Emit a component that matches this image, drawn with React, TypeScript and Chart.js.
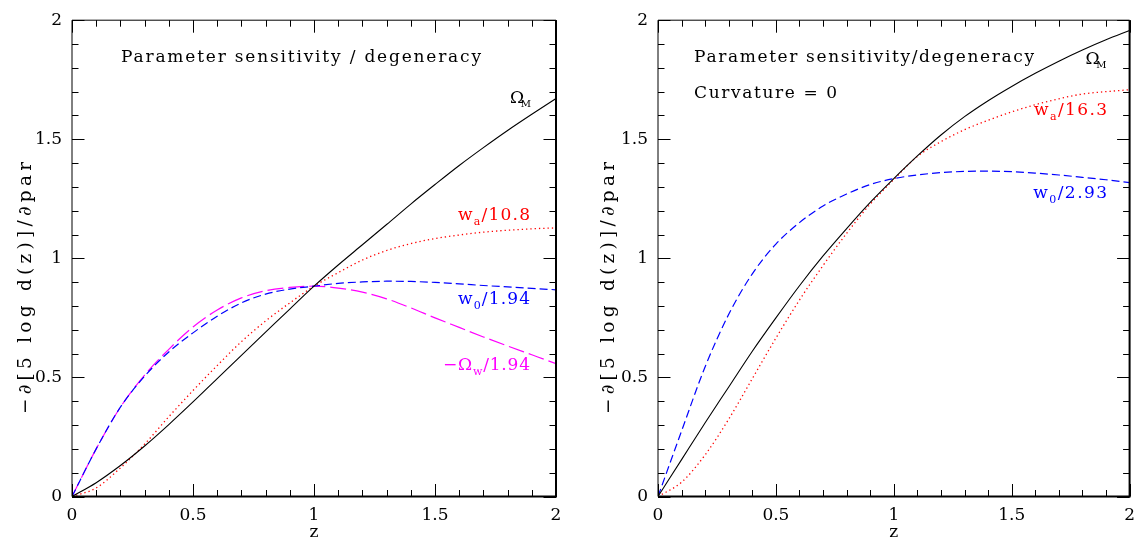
import React, { useEffect, useRef } from "react";
import { Chart, registerables } from "chart.js";

Chart.register(...registerables);

// ---------- data ----------
const zValues = [0, 0.1, 0.2, 0.3, 0.4, 0.5, 0.6, 0.7, 0.8, 0.9, 1.0, 1.1, 1.2, 1.3, 1.4, 1.5, 1.6, 1.7, 1.8, 1.9, 2.0];

// left panel
const leftOmegaM = [0, 0.058, 0.13, 0.212, 0.302, 0.397, 0.495, 0.593, 0.69, 0.787, 0.883, 0.972, 1.057, 1.142, 1.228, 1.31, 1.39, 1.465, 1.537, 1.605, 1.671];
const leftWa = [0, 0.036, 0.12, 0.22, 0.335, 0.445, 0.55, 0.65, 0.737, 0.813, 0.883, 0.94, 0.993, 1.033, 1.062, 1.083, 1.098, 1.11, 1.118, 1.124, 1.128];
const leftW0 = [0, 0.2, 0.375, 0.505, 0.607, 0.687, 0.757, 0.813, 0.85, 0.871, 0.883, 0.895, 0.901, 0.904, 0.903, 0.899, 0.893, 0.886, 0.88, 0.874, 0.868];
const leftOmegaW = [0, 0.2, 0.375, 0.51, 0.618, 0.712, 0.783, 0.834, 0.864, 0.878, 0.883, 0.875, 0.858, 0.83, 0.792, 0.75, 0.71, 0.67, 0.632, 0.595, 0.558];

// right panel (curvature = 0)
const rightOmegaM = [0, 0.155, 0.31, 0.46, 0.61, 0.75, 0.885, 1.01, 1.125, 1.235, 1.335, 1.43, 1.518, 1.595, 1.662, 1.722, 1.777, 1.828, 1.875, 1.918, 1.957];
const rightWa = [0, 0.06, 0.175, 0.325, 0.495, 0.665, 0.825, 0.97, 1.105, 1.228, 1.331, 1.428, 1.49, 1.54, 1.58, 1.615, 1.645, 1.67, 1.69, 1.7, 1.708];
const rightW0 = [0, 0.275, 0.545, 0.765, 0.935, 1.06, 1.15, 1.22, 1.27, 1.31, 1.335, 1.35, 1.36, 1.365, 1.366, 1.364, 1.358, 1.35, 1.34, 1.33, 1.318];

// axes
const majorTicks = [0, 0.5, 1, 1.5, 2];
const minorTicks = [0, 0.1, 0.2, 0.3, 0.4, 0.5, 0.6, 0.7, 0.8, 0.9, 1.0, 1.1, 1.2, 1.3, 1.4, 1.5, 1.6, 1.7, 1.8, 1.9, 2.0];
const yAxisTitle = "−∂[5 log d(z)]/∂par";
const xAxisTitle = "z";

// ---------- styling ----------
const FONT = '"DejaVu Serif", "Liberation Serif", serif';
const RED = "#ff0000";
const BLUE = "#0000ff";
const MAGENTA = "#ff00ff";
const BLACK = "#000000";

type Seg = { t: string; size: number; dy?: number };
type Note = { segs: Seg[]; x: number; y: number; color: string; width?: number };

const leftNotes: Note[] = [
  { segs: [{ t: "Parameter sensitivity / degeneracy", size: 17 }], x: 0.2025, y: 1.824, color: BLACK, width: 360 },
  { segs: [{ t: "Ω", size: 17 }, { t: "M", size: 10, dy: 4 }], x: 1.81, y: 1.654, color: BLACK, width: 21 },
  { segs: [{ t: "w", size: 17 }, { t: "a", size: 11, dy: 5 }, { t: "/10.8", size: 17 }], x: 1.595, y: 1.159, color: RED, width: 72 },
  { segs: [{ t: "w", size: 17 }, { t: "0", size: 11, dy: 5 }, { t: "/1.94", size: 17 }], x: 1.595, y: 0.807, color: BLUE, width: 72 },
  { segs: [{ t: "−Ω", size: 17 }, { t: "w", size: 11, dy: 5 }, { t: "/1.94", size: 17 }], x: 1.533, y: 0.531, color: MAGENTA, width: 87 },
];

const rightNotes: Note[] = [
  { segs: [{ t: "Parameter sensitivity/degeneracy", size: 17 }], x: 0.153, y: 1.824, color: BLACK, width: 340 },
  { segs: [{ t: "Curvature = 0", size: 17 }], x: 0.153, y: 1.672, color: BLACK, width: 143 },
  { segs: [{ t: "Ω", size: 17 }, { t: "M", size: 10, dy: 4 }], x: 1.813, y: 1.814, color: BLACK, width: 21 },
  { segs: [{ t: "w", size: 17 }, { t: "a", size: 11, dy: 5 }, { t: "/16.3", size: 17 }], x: 1.595, y: 1.6, color: RED, width: 73 },
  { segs: [{ t: "w", size: 17 }, { t: "0", size: 11, dy: 5 }, { t: "/2.93", size: 17 }], x: 1.591, y: 1.253, color: BLUE, width: 74 },
];

function drawSegs(ctx: CanvasRenderingContext2D, segs: Seg[], x: number, y: number, color: string, width?: number) {
  ctx.save();
  ctx.fillStyle = color;
  ctx.textBaseline = "alphabetic";
  ctx.textAlign = "left";
  (ctx as any).letterSpacing = "0px";
  let total = 0;
  let chars = 0;
  for (const s of segs) {
    ctx.font = `${s.size}px ${FONT}`;
    total += ctx.measureText(s.t).width;
    chars += Array.from(s.t).length;
  }
  let ls = 0;
  if (width && chars > 1) ls = (width - total) / (chars - 1);
  (ctx as any).letterSpacing = `${ls}px`;
  let cx = x;
  for (const s of segs) {
    ctx.font = `${s.size}px ${FONT}`;
    ctx.fillText(s.t, cx, y + (s.dy || 0));
    cx += ctx.measureText(s.t).width;
  }
  ctx.restore();
}

function makeDecor(notes: Note[], yTitleX: number) {
  return {
    id: "decor",
    afterDatasetsDraw(chart: any) {
      const { ctx, chartArea: a, scales } = chart;
      const xs = scales.x;
      const ys = scales.y;
      ctx.save();
      ctx.strokeStyle = BLACK;
      // frame
      ctx.lineWidth = 1;
      ctx.beginPath();
      ctx.moveTo(a.left, a.bottom);
      ctx.lineTo(a.left, a.top);
      ctx.lineTo(a.right, a.top);
      ctx.stroke();
      ctx.lineWidth = 2;
      ctx.beginPath();
      ctx.moveTo(a.left, a.bottom);
      ctx.lineTo(a.right, a.bottom);
      ctx.lineTo(a.right, a.top);
      ctx.stroke();
      // inward ticks
      ctx.lineWidth = 1;
      ctx.beginPath();
      for (const v of minorTicks) {
        const major = majorTicks.some((m) => Math.abs(m - v) < 1e-9);
        const len = major ? 12.5 : 6.5;
        const px = Math.round(xs.getPixelForValue(v)) + 0.5;
        ctx.moveTo(px, a.bottom);
        ctx.lineTo(px, a.bottom - len);
        ctx.moveTo(px, a.top);
        ctx.lineTo(px, a.top + len);
        const py = Math.round(ys.getPixelForValue(v)) + 0.5;
        ctx.moveTo(a.left, py);
        ctx.lineTo(a.left + len, py);
        ctx.moveTo(a.right, py);
        ctx.lineTo(a.right - len, py);
      }
      ctx.stroke();
      ctx.restore();

      // notes
      for (const n of notes) {
        drawSegs(ctx, n.segs, xs.getPixelForValue(n.x), ys.getPixelForValue(n.y), n.color, n.width);
      }

      // axis titles
      ctx.save();
      ctx.fillStyle = BLACK;
      ctx.font = `17px ${FONT}`;
      ctx.textAlign = "center";
      ctx.textBaseline = "alphabetic";
      ctx.fillText(xAxisTitle, xs.getPixelForValue(1), 537);
      ctx.restore();

      ctx.save();
      ctx.translate(yTitleX, 288);
      ctx.rotate(-Math.PI / 2);
      drawSegs(ctx, [{ t: yAxisTitle, size: 18.5 }], -126, 0, BLACK, 252);
      ctx.restore();
    },
  };
}

function series(ys: number[]) {
  return zValues.map((z, i) => ({ x: z, y: ys[i] }));
}

type DS = { data: number[]; color: string; dash: number[]; width: number };

function buildConfig(sets: DS[], notes: Note[], yAxisWidth: number, padRight: number, yTitleX: number): any {
  return {
    type: "line",
    data: {
      datasets: sets.map((s) => ({
        data: series(s.data),
        borderColor: s.color,
        borderWidth: s.width,
        borderDash: s.dash,
        pointRadius: 0,
        fill: false,
        cubicInterpolationMode: "monotone",
      })),
    },
    options: {
      responsive: false,
      animation: false,
      devicePixelRatio: 1,
      layout: { autoPadding: false, padding: { top: 13.5, right: padRight, left: 0, bottom: 0 } },
      plugins: { legend: { display: false }, tooltip: { enabled: false } },
      events: [],
      scales: {
        x: {
          type: "linear",
          min: 0,
          max: 2,
          afterBuildTicks: (s: any) => {
            s.ticks = majorTicks.map((v) => ({ value: v }));
          },
          afterFit: (s: any) => {
            s.height = 45.5;
          },
          grid: { display: false, drawTicks: false },
          border: { display: false },
          ticks: {
            padding: 9,
            color: BLACK,
            font: { family: FONT, size: 17 },
            maxRotation: 0,
            autoSkip: false,
            callback: (v: number) => String(v),
          },
        },
        y: {
          type: "linear",
          min: 0,
          max: 2,
          afterBuildTicks: (s: any) => {
            s.ticks = majorTicks.map((v) => ({ value: v }));
          },
          afterFit: (s: any) => {
            s.width = yAxisWidth;
          },
          grid: { display: false, drawTicks: false },
          border: { display: false },
          ticks: {
            padding: 10,
            color: BLACK,
            font: { family: FONT, size: 17 },
            autoSkip: false,
            callback: (v: number) => String(v),
          },
        },
      },
    },
    plugins: [makeDecor(notes, yTitleX)],
  };
}

function Panel(props: { sets: DS[]; notes: Note[]; yAxisWidth: number; padRight: number; yTitleX: number }) {
  const ref = useRef<HTMLCanvasElement | null>(null);
  useEffect(() => {
    if (!ref.current) return;
    const chart = new Chart(ref.current, buildConfig(props.sets, props.notes, props.yAxisWidth, props.padRight, props.yTitleX));
    return () => chart.destroy();
  }, []);
  return <canvas ref={ref} width={572} height={542} style={{ display: "block", width: 572, height: 542 }} />;
}

export default function App() {
  const leftSets: DS[] = [
    { data: leftOmegaM, color: BLACK, dash: [], width: 1.1 },
    { data: leftWa, color: RED, dash: [1.3, 3], width: 1.3 },
    { data: leftW0, color: BLUE, dash: [8, 4], width: 1.2 },
    { data: leftOmegaW, color: MAGENTA, dash: [16, 5], width: 1.2 },
  ];
  const rightSets: DS[] = [
    { data: rightOmegaM, color: BLACK, dash: [], width: 1.1 },
    { data: rightWa, color: RED, dash: [1.3, 3], width: 1.3 },
    { data: rightW0, color: BLUE, dash: [8, 4], width: 1.2 },
  ];
  return (
    <div style={{ position: "fixed", left: 0, top: 0, width: 1144, height: 542, background: "#fff", display: "flex", overflow: "hidden" }}>
      <Panel sets={leftSets} notes={leftNotes} yAxisWidth={72} padRight={16} yTitleX={31} />
      <Panel sets={rightSets} notes={rightNotes} yAxisWidth={86} padRight={2} yTitleX={42} />
    </div>
  );
}
